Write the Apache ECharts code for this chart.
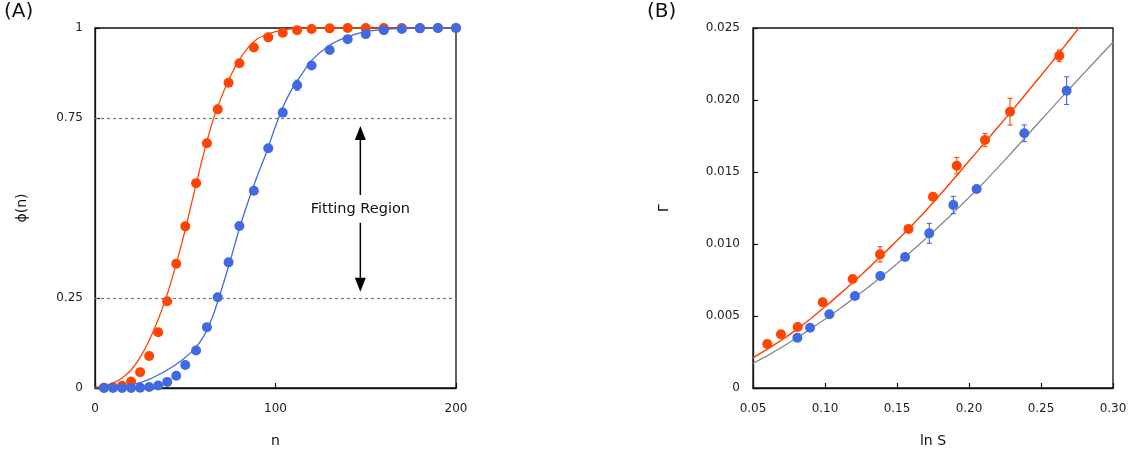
<!DOCTYPE html>
<html>
<head>
<meta charset="utf-8">
<script src="https://cdn.jsdelivr.net/npm/echarts@6/dist/echarts.min.js"></script>
<style>
html,body{margin:0;padding:0;background:#fff;}
#chart{width:1139px;height:457px;}
</style>
</head>
<body>
<div id="chart"></div>
<script>
// ---------- Panel A data ----------
const nPoints = [5,10,15,20,25,30,35,40,45,50,56,62,68,74,80,88,96,104,112,120,130,140,150,160,170,180,190,200];
const phiRed  = [0.001,0.002,0.006,0.018,0.044,0.089,0.155,0.241,0.345,0.449,0.569,0.680,0.774,0.848,0.902,0.946,0.974,0.987,0.994,0.997,0.999,1,1,1,1,1,1,1];
const phiBlue = [0,0,0,0,0.001,0.003,0.007,0.017,0.034,0.064,0.104,0.169,0.252,0.349,0.450,0.548,0.666,0.765,0.841,0.896,0.939,0.969,0.983,0.994,0.997,0.999,1,1];
const phiBlueErr = [0,0,0,0,0,0,0,0,0,0,0,0,0,0,0,0,0,0,0.014,0,0,0,0,0,0,0,0,0];

const curveN = [0,5,10,15,20,25,30,35,40,45,50,55,60,65,70,75,80,85,90,95,100,105,110,115,120,130,140,150,160,170,180,190,200];
const fitRed  = [0.002,0.006,0.014,0.028,0.050,0.085,0.132,0.190,0.260,0.345,0.440,0.545,0.647,0.738,0.808,0.866,0.912,0.947,0.970,0.982,0.990,0.995,0.998,0.999,1,1,1,1,1,1,1,1,1];
const fitBlue = [0,0.0005,0.002,0.005,0.009,0.015,0.024,0.036,0.050,0.066,0.085,0.108,0.142,0.196,0.272,0.355,0.443,0.520,0.590,0.655,0.727,0.790,0.838,0.875,0.910,0.952,0.976,0.990,0.996,0.999,1,1,1];

const xTicksA = [0,100,200];
const yTicksA = [0,0.25,0.75,1];
const refLinesA = [0.25,0.75];
// annotation: arrows [n, from, to] and label
const arrowsA = [[147,0.536,0.728],[147,0.459,0.2675]];
const labelA = [147,0.497,'Fitting Region'];

// ---------- Panel B data ----------
const lnSRed = [0.0599,0.0694,0.0810,0.0984,0.1192,0.1382,0.1580,0.1750,0.1915,0.2111,0.2285,0.2627];
const gamRed = [0.00306,0.00373,0.00424,0.00595,0.00757,0.00928,0.01105,0.01328,0.01544,0.01722,0.01919,0.02307];
const errRed = [0,0,0,0,0,0.00053,0.0001,0,0.00057,0.00046,0.00093,0.0004];
const lnSBlue = [0.0808,0.0896,0.1030,0.1208,0.1384,0.1556,0.1724,0.1891,0.2053,0.2384,0.2678];
const gamBlue = [0.00349,0.00419,0.00512,0.00639,0.00778,0.00910,0.01074,0.01271,0.01382,0.01769,0.02065];
const errBlue = [0,0,0,0,0,0,0.00069,0.0006,0,0.00058,0.00096];

const fitXRed = [0.05,0.06,0.07,0.08,0.09,0.10,0.11,0.12,0.13,0.14,0.15,0.16,0.17,0.18,0.19,0.20,0.21,0.22,0.23,0.24,0.25,0.26,0.27,0.28];
const fitYRed = [0.00210,0.00270,0.00334,0.00404,0.00481,0.00564,0.00650,0.00739,0.00831,0.00926,0.01024,0.01125,0.01231,0.01343,0.01459,0.01576,0.01693,0.01810,0.01928,0.02048,0.02170,0.02294,0.02420,0.02548];
const fitXGray = [0.05,0.06,0.07,0.08,0.09,0.10,0.11,0.12,0.13,0.14,0.15,0.16,0.17,0.18,0.19,0.20,0.21,0.22,0.23,0.24,0.25,0.26,0.27,0.28,0.29,0.30];
const fitYGray = [0.00170,0.00225,0.00283,0.00345,0.00410,0.00478,0.00549,0.00623,0.00700,0.00780,0.00863,0.00949,0.01038,0.01130,0.01225,0.01323,0.01424,0.01530,0.01639,0.01750,0.01861,0.01971,0.02080,0.02188,0.02295,0.02401];

const xTicksB = [0.05,0.10,0.15,0.20,0.25,0.30];
const yTicksB = [0,0.005,0.010,0.015,0.020,0.025];

// ---------- styles ----------
const RED = '#ff4500', BLUE = '#4169e1', GRAY = '#888888';
const FONT = 'DejaVu Sans';

function zip(a,b){ return a.map((v,i)=>[v,b[i]]); }

function errorBarSeries(xs, ys, es, color, xi, yi){
  const data = [];
  xs.forEach((x,i)=>{ if(es[i]>0) data.push([x, ys[i]-es[i], ys[i]+es[i]]); });
  return {
    type:'custom', xAxisIndex:xi, yAxisIndex:yi, z:4, silent:true,
    data: data,
    encode:{x:0, y:[1,2]},
    renderItem:function(params, api){
      const lo = api.coord([api.value(0), api.value(1)]);
      const hi = api.coord([api.value(0), api.value(2)]);
      const w = 2.5;
      const st = {stroke:color, lineWidth:1.1};
      return {type:'group', children:[
        {type:'line', shape:{x1:lo[0],y1:lo[1],x2:hi[0],y2:hi[1]}, style:st},
        {type:'line', shape:{x1:lo[0]-w,y1:lo[1],x2:lo[0]+w,y2:lo[1]}, style:st},
        {type:'line', shape:{x1:hi[0]-w,y1:hi[1],x2:hi[0]+w,y2:hi[1]}, style:st}
      ]};
    }
  };
}

const axisCommon = {
  axisLine:{show:true, lineStyle:{color:'#111', width:1.3}},
  axisTick:{show:true, inside:true, length:5, lineStyle:{color:'#111', width:1.2}},
  splitLine:{show:false},
  nameTextStyle:{fontFamily:FONT, fontSize:14, color:'#111'},
};
const labelCommon = {fontFamily:FONT, fontSize:12, color:'#222'};

const chart = echarts.init(document.getElementById('chart'), null, {renderer:'canvas'});

const option = {
  animation:false,
  backgroundColor:'#fff',
  graphic:[
    {type:'text', left:4, top:2, style:{text:'(A)', font:'20px "DejaVu Sans"', fill:'#111'}},
    {type:'text', left:647, top:2, style:{text:'(B)', font:'20px "DejaVu Sans"', fill:'#111'}}
  ],
  grid:[
    {left:95, right:683, top:28, bottom:69, show:true, borderColor:'#111', borderWidth:1.3, outerBoundsMode:'none'},
    {left:753, right:26, top:28, bottom:69, show:true, borderColor:'#111', borderWidth:1.3, outerBoundsMode:'none'}
  ],
  xAxis:[
    Object.assign({}, axisCommon, {
      gridIndex:0, type:'value', min:0, max:200, interval:100,
      name:'n', nameLocation:'middle', nameGap:46,
      axisLabel:Object.assign({}, labelCommon, {margin:15, customValues:xTicksA}),
      axisTick:Object.assign({}, axisCommon.axisTick, {customValues:xTicksA})
    }),
    Object.assign({}, axisCommon, {
      gridIndex:1, type:'value', min:0.05, max:0.30, interval:0.05,
      name:'ln S', nameLocation:'middle', nameGap:46,
      axisLabel:Object.assign({}, labelCommon, {margin:15, customValues:xTicksB, formatter:v=>v.toFixed(2)}),
      axisTick:Object.assign({}, axisCommon.axisTick, {customValues:xTicksB})
    })
  ],
  yAxis:[
    Object.assign({}, axisCommon, {
      gridIndex:0, type:'value', min:0, max:1, interval:0.25,
      name:'ϕ(n)', nameLocation:'middle', nameGap:66, nameRotate:90,
      axisLabel:Object.assign({}, labelCommon, {margin:12, customValues:yTicksA, formatter:v=>String(v)}),
      axisTick:Object.assign({}, axisCommon.axisTick, {customValues:yTicksA})
    }),
    Object.assign({}, axisCommon, {
      gridIndex:1, type:'value', min:0, max:0.025, interval:0.005,
      name:'Γ', nameLocation:'middle', nameGap:82, nameRotate:90,
      axisLabel:Object.assign({}, labelCommon, {margin:13, customValues:yTicksB, formatter:v=>v===0?'0':v.toFixed(3)}),
      axisTick:Object.assign({}, axisCommon.axisTick, {customValues:yTicksB})
    })
  ],
  series:[
    // Panel A fits
    {type:'line', xAxisIndex:0, yAxisIndex:0, data:zip(curveN, fitRed), smooth:0.3, showSymbol:false, silent:true, z:2,
     lineStyle:{color:RED, width:1.3},
     markLine:{silent:true, symbol:['none','none'], label:{show:false},
       lineStyle:{color:'#777', type:[3,3], width:1.2},
       data: refLinesA.map(v=>({yAxis:v}))}},
    {type:'line', xAxisIndex:0, yAxisIndex:0, data:zip(curveN, fitBlue), smooth:0.3, showSymbol:false, silent:true, z:2,
     lineStyle:{color:BLUE, width:1.3}},
    // Panel A points
    {type:'scatter', xAxisIndex:0, yAxisIndex:0, data:zip(nPoints, phiRed), symbolSize:10, z:3,
     itemStyle:{color:RED, opacity:1}},
    {type:'scatter', xAxisIndex:0, yAxisIndex:0, data:zip(nPoints, phiBlue), symbolSize:10, z:3,
     itemStyle:{color:BLUE, opacity:1}},
    errorBarSeries(nPoints, phiBlue, phiBlueErr, BLUE, 0, 0),
    // Panel A annotation arrows
    {type:'custom', xAxisIndex:0, yAxisIndex:0, silent:true, z:5, data:arrowsA, encode:{x:0,y:[1,2]},
     renderItem:function(params, api){
       const a = api.coord([api.value(0), api.value(1)]);
       const b = api.coord([api.value(0), api.value(2)]);
       const dir = b[1] < a[1] ? -1 : 1;
       const hl = 14, hw = 5.5;
       const base = b[1] - dir*hl;
       return {type:'group', children:[
         {type:'line', shape:{x1:a[0],y1:a[1],x2:b[0],y2:base}, style:{stroke:'#000', lineWidth:1.5}},
         {type:'polygon', shape:{points:[[b[0],b[1]],[b[0]-hw,base],[b[0]+hw,base]]}, style:{fill:'#000'}}
       ]};
     }},
    {type:'custom', xAxisIndex:0, yAxisIndex:0, silent:true, z:5, data:[labelA], encode:{x:0,y:1},
     renderItem:function(params, api){
       const p = api.coord([api.value(0), api.value(1)]);
       return {type:'text', x:p[0], y:p[1], style:{text:labelA[2], font:'14.5px "DejaVu Sans"', fill:'#111', align:'center', verticalAlign:'middle'}};
     }},
    // Panel B fits
    {type:'line', xAxisIndex:1, yAxisIndex:1, data:zip(fitXRed, fitYRed), smooth:0.2, showSymbol:false, silent:true, z:2,
     lineStyle:{color:RED, width:1.5}},
    {type:'line', xAxisIndex:1, yAxisIndex:1, data:zip(fitXGray, fitYGray), smooth:0.2, showSymbol:false, silent:true, z:2,
     lineStyle:{color:GRAY, width:1.3}},
    // Panel B error bars and points
    errorBarSeries(lnSRed, gamRed, errRed, RED, 1, 1),
    errorBarSeries(lnSBlue, gamBlue, errBlue, BLUE, 1, 1),
    {type:'scatter', xAxisIndex:1, yAxisIndex:1, data:zip(lnSRed, gamRed), symbolSize:10, z:3,
     itemStyle:{color:RED, opacity:1}},
    {type:'scatter', xAxisIndex:1, yAxisIndex:1, data:zip(lnSBlue, gamBlue), symbolSize:10, z:3,
     itemStyle:{color:BLUE, opacity:1}}
  ]
};
chart.setOption(option);
</script>
</body>
</html>
